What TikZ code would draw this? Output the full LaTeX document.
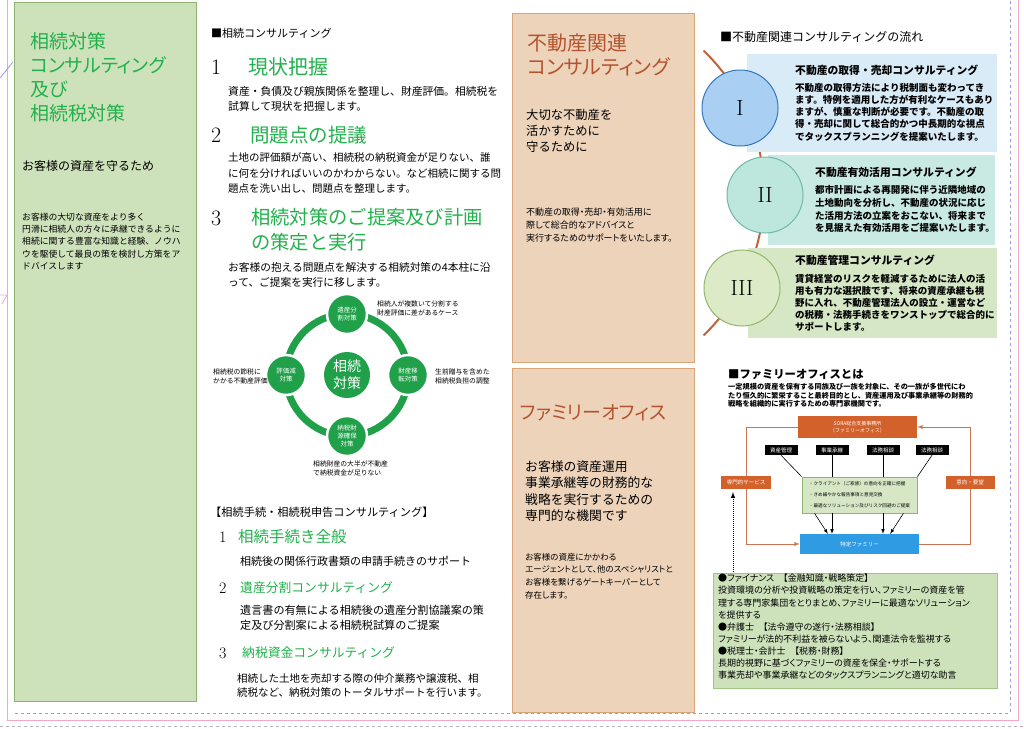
\documentclass[tikz,border=0pt]{standalone}
\usepackage{fontspec}
\usepackage{tikz}
\newfontfamily\jp{Noto Sans CJK JP}
\newfontfamily\jpp{Noto Sans CJK JP}[RawFeature={+palt}]
\newcommand{\jfs}[2]{\fontsize{#1}{#2}\selectfont}

\definecolor{leaf}{HTML}{CDE2BA}
\definecolor{leafedge}{HTML}{8DB46A}
\definecolor{titlegreen}{HTML}{22B14C}
\definecolor{ringgreen}{HTML}{1FA049}
\definecolor{peach}{HTML}{EDD3BA}
\definecolor{peachedge}{HTML}{D8A57A}
\definecolor{brick}{HTML}{B4532E}
\definecolor{skybox}{HTML}{DAEBF8}
\definecolor{skycirc}{HTML}{A9D0F2}
\definecolor{skyedge}{HTML}{3478BE}
\definecolor{tealbox}{HTML}{C8EAE2}
\definecolor{tealcirc}{HTML}{BDE6DD}
\definecolor{tealedge}{HTML}{6FB9A8}
\definecolor{sagebox}{HTML}{D6E7C6}
\definecolor{sagecirc}{HTML}{DCEAC8}
\definecolor{sageedge}{HTML}{93B66E}
\definecolor{arcbrown}{HTML}{C2643A}
\definecolor{soraorange}{HTML}{D2612B}
\definecolor{famblue}{HTML}{2F9BE3}
\definecolor{flowline}{HTML}{C97452}
\definecolor{guidepink}{HTML}{F4A6C8}
\definecolor{guideblue}{HTML}{9A9AF0}

\tikzset{
  txt/.style={anchor=north west, inner sep=0pt, align=left},
  oneline/.style={anchor=west, inner sep=0pt},
  numeral/.style={anchor=west, inner sep=0pt, font=\fontsize{22}{22}\selectfont},
  pillar/.style={circle, fill=ringgreen, draw=white, line width=2.5pt, minimum size=40pt, inner sep=0pt, text=white, align=center, font=\jp\jfs{6.5}{8}},
  note/.style={txt, font=\jp\jfs{6.8}{9}},
  stagecirc/.style={circle, minimum size=76pt, line width=1pt, font=\fontsize{22}{22}\selectfont},
  boxtitle/.style={oneline, font=\jp\bfseries\jfs{10.8}{10.8}},
  boxbody/.style={txt, font=\jp\bfseries\jfs{9.5}{12.2}},
  blk/.style={fill=black, text=white, minimum width=33pt, minimum height=10pt, inner sep=0pt, font=\jp\jfs{5.5}{6}},
  orangebox/.style={fill=soraorange, text=white, inner sep=0pt, align=center, font=\jp\jfs{5.5}{7}},
  flow/.style={flowline, line width=0.9pt},
  feed/.style={black, line width=0.6pt}
}

\begin{document}
\begin{tikzpicture}[x=1pt, y=-1pt]
\useasboundingbox (0,0) rectangle (1024,728);
\fill[white] (0,0) rectangle (1024,728);

\draw[guidepink, line width=0.8pt] (7,0) -- (7,720) -- (1018,720) -- (1018,0);
\draw[guideblue, dashed, line width=0.5pt] (15,713) -- (1010,713) -- (1010,0);
\draw[gray!60, dashed, line width=0.6pt] (0,726) -- (1024,726);
\draw[guideblue, line width=0.8pt] (0,78) -- (13,62);
\draw[guidepink, line width=0.8pt] (0,295) -- (7,295) -- (2,304);

\fill[leaf] (14,2) rectangle (196,701);
\draw[leafedge, line width=1pt] (14,2) rectangle (196,701);
\node[txt, text=titlegreen, font=\jpp\jfs{19}{24}] (souzoku) at (30,32.5) {相続対策\\コンサルティング\\及び\\相続税対策};
\node[oneline, font=\jp\jfs{12}{12}] (mamoru) at (22,166) {お客様の資産を守るため};
\node[txt, font=\jp\jfs{8.8}{12.3}] (mamorutext) at (22,212.6) {お客様の大切な資産をより多く\\円滑に相続人の方々に承継できるように\\相続に関する豊富な知識と経験、ノウハ\\ウを駆使して最良の策を検討し方策をア\\ドバイスします};

\node[oneline, font=\jp\jfs{11}{11}] (sctitle) at (211,33) {■相続コンサルティング};
\node[numeral] (n1) at (211,67) {1};
\node[oneline, text=titlegreen, font=\jp\jfs{20}{20}] (s1) at (248,67) {現状把握};
\node[txt, font=\jp\jfs{10.8}{15}] (s1text) at (228,86.6) {資産・負債及び親族関係を整理し、財産評価。相続税を\\試算して現状を把握します。};
\node[numeral] (n2) at (211,135) {2};
\node[oneline, text=titlegreen, font=\jp\jfs{19.5}{19.5}] (s2) at (250,135) {問題点の提議};
\node[txt, font=\jp\jfs{10.5}{15.5}] (s2text) at (228,152.7) {土地の評価額が高い、相続税の納税資金が足りない、誰\\に何を分ければいいのかわからない。など相続に関する問\\題点を洗い出し、問題点を整理します。};
\node[numeral] (n3) at (211,218) {3};
\node[txt, text=titlegreen, font=\jp\jfs{19.3}{25}] (s3) at (251,208.4) {相続対策のご提案及び計画\\の策定と実行};
\node[txt, font=\jp\jfs{10.7}{15}] (s3text) at (228,262.6) {お客様の抱える問題点を解決する相続対策の4本柱に沿\\って、ご提案を実行に移します。};

\draw[ringgreen, line width=7pt] (347,375) circle (61);
\node[circle, fill=ringgreen, minimum size=46pt, inner sep=0pt, text=white, align=center, font=\jp\jfs{14}{17}] (core) at (347,375) {相続\\対策};
\node[pillar] (bunkatsu) at (347,314) {遺産分\\割対策};
\node[pillar] (iten) at (408,375) {財産移\\転対策};
\node[pillar] (nouzei) at (347,436) {納税財\\源確保\\対策};
\node[pillar] (hyouka) at (286,375) {評価減\\対策};
\node[note] (bunkatsunote) at (377,300.6) {相続人が複数いて分割する\\財産評価に差があるケース};
\node[note] (itennote) at (435,368.6) {生前贈与を含めた\\相続税負担の調整};
\node[note] (hyoukanote) at (213,368.6) {相続税の節税に\\かかる不動産評価};
\node[note] (nouzeinote) at (313,460.6) {相続財産の大半が不動産\\で納税資金が足りない};

\node[oneline, font=\jp\jfs{11.2}{11.2}] (tetsuzuki) at (210,512) {【相続手続・相続税申告コンサルティング】};
\node[numeral, font=\fontsize{16}{16}\selectfont] (m1) at (219,537) {1};
\node[oneline, text=titlegreen, font=\jp\jfs{15.5}{15.5}] (t1) at (238,537) {相続手続き全般};
\node[oneline, font=\jp\jfs{11}{11}] (t1text) at (240,561) {相続後の関係行政書類の申請手続きのサポート};
\node[numeral, font=\fontsize{16}{16}\selectfont] (m2) at (219,588) {2};
\node[oneline, text=titlegreen, font=\jp\jfs{12.8}{12.8}] (t2) at (240,588) {遺産分割コンサルティング};
\node[txt, font=\jp\jfs{11.1}{15}] (t2text) at (240,604.5) {遺言書の有無による相続後の遺産分割協議案の策\\定及び分割案による相続税試算のご提案};
\node[numeral, font=\fontsize{16}{16}\selectfont] (m3) at (219,653) {3};
\node[oneline, text=titlegreen, font=\jp\jfs{12.8}{12.8}] (t3) at (242,653) {納税資金コンサルティング};
\node[txt, font=\jp\jfs{10.5}{13.5}] (t3text) at (237,673.7) {相続した土地を売却する際の仲介業務や譲渡税、相\\続税など、納税対策のトータルサポートを行います。};

\fill[peach] (512,13) rectangle (694,362);
\draw[peachedge, line width=1pt] (512,13) rectangle (694,362);
\fill[peach] (512,368) rectangle (694,712);
\draw[peachedge, line width=1pt] (512,368) rectangle (694,712);
\node[txt, text=brick, font=\jpp\jfs{20}{24}] (fudousan) at (527,33) {不動産関連\\コンサルティング};
\node[txt, font=\jp\jfs{12.3}{16}] (ikasu) at (526,109) {大切な不動産を\\活かすために\\守るために};
\node[txt, font=\jpp\jfs{9}{13}] (ikasutext) at (526,207.5) {不動産の取得・売却・有効活用に\\際して総合的なアドバイスと\\実行するためのサポートをいたします。};
\node[oneline, text=brick, font=\jpp\jfs{19}{19}] (family) at (520,413) {ファミリーオフィス};
\node[txt, font=\jp\jfs{12.8}{16.3}] (kikan) at (525,460.6) {お客様の資産運用\\事業承継等の財務的な\\戦略を実行するための\\専門的な機関です};
\node[txt, font=\jpp\jfs{8.5}{12.7}] (kikantext) at (525,552.8) {お客様の資産にかかわる\\エージェントとして、他のスペシャリストと\\お客様を繋げるゲートキーパーとして\\存在します。};

\node[oneline, font=\jp\jfs{12}{12}] (flowtitle) at (720,37) {■不動産関連コンサルティングの流れ};
\draw[arcbrown, line width=2pt] (566,193) ++(-46:198) arc[start angle=-46, end angle=46, radius=198];
\fill[skybox] (747,54) rectangle (997,152);
\fill[tealbox] (768,155) rectangle (995,245);
\fill[sagebox] (748,248) rectangle (997,338);
\node[stagecirc, fill=skycirc, draw=skyedge] (stageone) at (740,108) {I};
\node[stagecirc, fill=tealcirc, draw=tealedge] (stagetwo) at (765,195) {II};
\node[stagecirc, fill=sagecirc, draw=sageedge] (stagethree) at (742,288) {III};
\node[boxtitle] (onetitle) at (795,70) {不動産の取得・売却コンサルティング};
\node[boxbody] (onetext) at (795,83) {不動産の取得方法により税制面も変わってき\\ます。特例を適用した方が有利なケースもあり\\ますが、慎重な判断が必要です。不動産の取\\得・売却に関して総合的かつ中長期的な視点\\でタックスプランニングを提案いたします。};
\node[boxtitle] (twotitle) at (815,172) {不動産有効活用コンサルティング};
\node[boxbody, font=\jp\bfseries\jfs{9.5}{12.8}] (twotext) at (815,185.2) {都市計画による再開発に伴う近隣地域の\\土地動向を分析し、不動産の状況に応じ\\た活用方法の立案をおこない、将来まで\\を見据えた有効活用をご提案いたします。};
\node[boxtitle] (threetitle) at (795,260) {不動産管理コンサルティング};
\node[boxbody, font=\jp\bfseries\jfs{9.5}{12.1}] (threetext) at (795,273.6) {賃貸経営のリスクを軽減するために法人の活\\用も有力な選択肢です、将来の資産承継も視\\野に入れ、不動産管理法人の設立・運営など\\の税務・法務手続きをワンストップで総合的に\\サポートします。};

\node[oneline, font=\jp\bfseries\jfs{11.3}{11.3}] (fotitle) at (728,375) {■ファミリーオフィスとは};
\node[txt, font=\jp\bfseries\jfs{7.2}{8.3}] (fotext) at (728,383.3) {一定規模の資産を保有する同族及び一族を対象に、その一族が多世代にわ\\たり恒久的に繁栄すること最終目的とし、資産運用及び事業承継等の財務的\\戦略を組織的に実行するための専門家機関です。};

\node[orangebox, minimum width=119pt, minimum height=22pt, font=\jp\jfs{5}{7}] (sora) at (857.5,427) {SORA総合支援事務所\\（ファミリーオフィス）};
\node[blk] (kanri) at (781,450) {資産管理};
\node[blk] (shoukei) at (832,450) {事業承継};
\node[blk] (houmu) at (883,450) {法務相談};
\node[blk] (soudan) at (932,450) {法務相談};
\node[fill=sagebox, draw=sageedge, line width=0.8pt, minimum width=115pt, minimum height=36pt, inner sep=0pt, align=left, font=\jp\jfs{4.6}{11}] (cbox) at (859.5,495) {・クライアント（ご家族）の意向を正確に把握\\・きめ細やかな報告事項と意見交換\\・最適なソリューション及びリスク回避のご提案};
\node[fill=famblue, text=white, minimum width=119pt, minimum height=20pt, inner sep=0pt, font=\jp\jfs{5.5}{6}] (fam) at (859.5,544) {特定ファミリー};
\node[orangebox, minimum width=50pt, minimum height=13pt] (service) at (746,482.5) {専門的サービス};
\node[orangebox, minimum width=49pt, minimum height=13pt] (wish) at (970,482.5) {意向・要望};

\draw[flow] (sora.west) -| (service.north);
\draw[flow, -latex] (service.south) |- (fam.west);
\draw[flow] (fam.east) -| (wish.south);
\draw[flow, -latex] (wish.north) |- (sora.east);
\draw[feed] (kanri.south) -- (cbox.north west);
\draw[feed] (shoukei.south) -- (shoukei.south |- cbox.north);
\draw[feed] (houmu.south) -- (houmu.south |- cbox.north);
\draw[feed] (soudan.south) -- (cbox.north east);
\draw[feed, -latex] ([xshift=13pt]cbox.south west) -- ([xshift=28pt]fam.north west);
\draw[feed, -latex] (shoukei.south |- cbox.south) -- (shoukei.south |- fam.north);
\draw[feed, -latex] (houmu.south |- cbox.south) -- (houmu.south |- fam.north);
\draw[feed, -latex] ([xshift=-14pt]cbox.south east) -- ([xshift=-29pt]fam.north east);
\coordinate (dotlow) at (733,578);
\coordinate (dothigh) at (733,492);
\draw[black, densely dotted, line width=1pt, -latex] (dotlow) -- (dothigh);

\fill[leaf] (713,573) rectangle (997,688);
\draw[leafedge!80, line width=0.8pt] (713,573) rectangle (997,688);
\node[txt, font=\jpp\jfs{9}{12.1}] (fotable) at (718,574) {●ファイナンス　【金融知識・戦略策定】\\投資環境の分析や投資戦略の策定を行い、ファミリーの資産を管\\理する専門家集団をとりまとめ、ファミリーに最適なソリューション\\を提供する\\●弁護士　【法令遵守の遂行・法務相談】\\ファミリーが法的不利益を被らないよう、関連法令を監視する\\●税理士・会計士　【税務・財務】\\長期的視野に基づくファミリーの資産を保全・サポートする\\事業売却や事業承継などのタックスプランニングと適切な助言};
\end{tikzpicture}
\end{document}
